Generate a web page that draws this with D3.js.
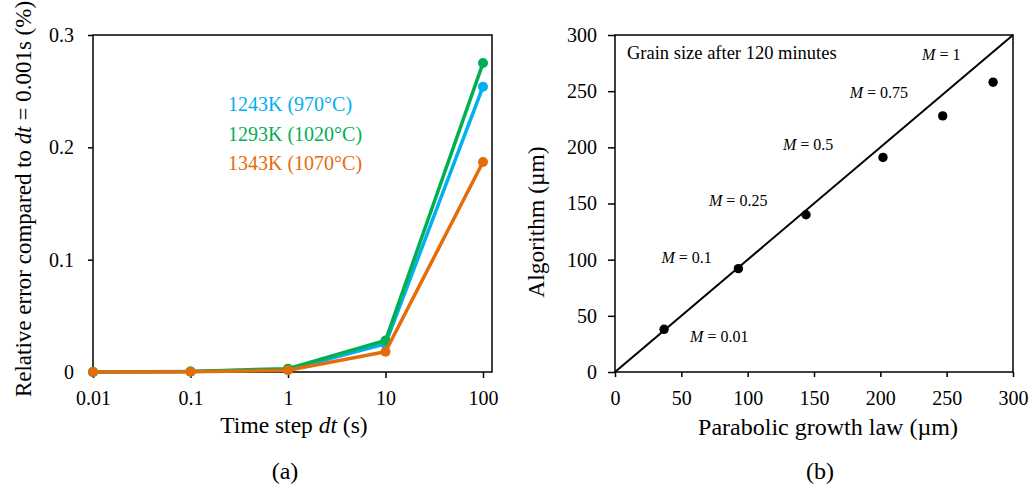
<!DOCTYPE html>
<html>
<head>
<meta charset="utf-8">
<script src="https://cdn.jsdelivr.net/npm/d3@7"></script>
<style>
  html, body { margin: 0; padding: 0; background: #fff; }
  svg { display: block; }
  svg text { font-family: "Times New Roman", Times, Tinos, serif; fill: #000; }
</style>
</head>
<body>
<svg id="chart" width="1032" height="489"></svg>
<script>
// ---------------- Data: panel (a) ----------------
const timeSteps = [0.01, 0.1, 1, 10, 100];
const timeStepLabels = ["0.01", "0.1", "1", "10", "100"];
const seriesNames = ["1243K (970°C)", "1293K (1020°C)", "1343K (1070°C)"];
const seriesColors = ["#00B0F0", "#00B050", "#E46C0A"];
const err1243 = [0, 0.0005, 0.002, 0.025, 0.254];
const err1293 = [0, 0.0005, 0.003, 0.028, 0.275];
const err1343 = [0, 0.0003, 0.0015, 0.018, 0.187];
const errTicks = [0, 0.1, 0.2, 0.3];
const errTickLabels = ["0", "0.1", "0.2", "0.3"];

// ---------------- Data: panel (b) ----------------
const mValues = ["0.01", "0.1", "0.25", "0.5", "0.75", "1"];
const parabolic = [37, 93, 144, 202, 247, 285];
const algorithm = [38, 92, 140, 191, 228, 258];
const sizeTicks = [0, 50, 100, 150, 200, 250, 300];
const identityLine = [[0, 0], [300, 300]];

// ---------------- Layout ----------------
const FONT = '"Times New Roman", Times, Tinos, serif';
const svg = d3.select("#chart");
const FONT_TICK = 20;

function styleAxis(g) {
  g.select(".domain").remove();
  g.selectAll(".tick line").attr("stroke", "#000").attr("stroke-width", 1.5);
  g.selectAll(".tick text").attr("font-size", FONT_TICK)
    .style("font-family", FONT).attr("fill", "#000");
}

// Panel (a)
const A = { left: 93, right: 492, top: 35, bottom: 372 };
const xA = d3.scaleLog().domain([0.01, 100]).range([93, 483]);
const yA = d3.scaleLinear().domain([0, 0.3]).range([A.bottom, A.top]);

const gA = svg.append("g");
gA.append("rect")
  .attr("x", A.left).attr("y", A.top)
  .attr("width", A.right - A.left).attr("height", A.bottom - A.top)
  .attr("fill", "none").attr("stroke", "#000").attr("stroke-width", 1.5);

const yAxisA = d3.axisLeft(yA).tickValues(errTicks)
  .tickFormat((d, i) => errTickLabels[i]).tickSize(5).tickPadding(14);
gA.append("g").attr("transform", `translate(${A.left},0)`).call(yAxisA).call(styleAxis);

const xAxisA = d3.axisBottom(xA).tickValues(timeSteps)
  .tickFormat((d, i) => timeStepLabels[i]).tickSize(6).tickPadding(13);
gA.append("g").attr("transform", `translate(0,${A.bottom})`).call(xAxisA).call(styleAxis);

const seriesA = [err1243, err1293, err1343];
const lineA = d3.line().x((d, i) => xA(timeSteps[i])).y(d => yA(d));
seriesA.forEach((vals, si) => {
  gA.append("path").datum(vals)
    .attr("d", lineA).attr("fill", "none")
    .attr("stroke", seriesColors[si]).attr("stroke-width", 3.5)
    .attr("stroke-linejoin", "round");
  gA.selectAll(null).data(vals).enter().append("circle")
    .attr("cx", (d, i) => xA(timeSteps[i])).attr("cy", d => yA(d))
    .attr("r", 5).attr("fill", seriesColors[si]);
});

const legendY = [111, 141, 170];
seriesNames.forEach((name, i) => {
  gA.append("text").attr("x", 228).attr("y", legendY[i])
    .attr("font-size", 20).style("fill", seriesColors[i])
    .text(name);
});

const tA = gA.append("text")
  .attr("transform", "translate(31,199) rotate(-90)")
  .attr("text-anchor", "middle").attr("font-size", 23);
tA.append("tspan").text("Relative error compared to ");
tA.append("tspan").attr("font-style", "italic").text("dt");
tA.append("tspan").text(" = 0.001s (%)");

const xtA = gA.append("text").attr("x", 294).attr("y", 433)
  .attr("text-anchor", "middle").attr("font-size", 23.5);
xtA.append("tspan").text("Time step ");
xtA.append("tspan").attr("font-style", "italic").text("dt");
xtA.append("tspan").text(" (s)");

gA.append("text").attr("x", 285).attr("y", 479)
  .attr("text-anchor", "middle").attr("font-size", 24).text("(a)");

// Panel (b)
const B = { left: 615, right: 1013, top: 35, bottom: 372 };
const xB = d3.scaleLinear().domain([0, 300]).range([B.left, B.right]);
const yB = d3.scaleLinear().domain([0, 300]).range([B.bottom, B.top]);
const gB = svg.append("g");

gB.append("rect")
  .attr("x", B.left).attr("y", B.top)
  .attr("width", B.right - B.left).attr("height", B.bottom - B.top)
  .attr("fill", "none").attr("stroke", "#000").attr("stroke-width", 1.5);

const yAxisB = d3.axisLeft(yB).tickValues(sizeTicks).tickFormat(d3.format("d"))
  .tickSize(7).tickPadding(11);
gB.append("g").attr("transform", `translate(${B.left},0)`).call(yAxisB).call(styleAxis);

const xAxisB = d3.axisBottom(xB).tickValues(sizeTicks).tickFormat(d3.format("d"))
  .tickSize(5).tickPadding(14);
gB.append("g").attr("transform", `translate(0,${B.bottom})`).call(xAxisB).call(styleAxis);

gB.append("path").datum(identityLine)
  .attr("d", d3.line().x(d => xB(d[0])).y(d => yB(d[1])))
  .attr("stroke", "#000").attr("stroke-width", 2).attr("fill", "none");

gB.selectAll(null).data(parabolic).enter().append("circle")
  .attr("cx", d => xB(d)).attr("cy", (d, i) => yB(algorithm[i]))
  .attr("r", 4.7).attr("fill", "#000");

const labelOffsets = [[26, 13], [-77, -6], [-97, -9], [-100, -7], [-93, -18], [-71, -22]];
mValues.forEach((m, i) => {
  const t = gB.append("text")
    .attr("x", xB(parabolic[i]) + labelOffsets[i][0])
    .attr("y", yB(algorithm[i]) + labelOffsets[i][1])
    .attr("font-size", 16);
  t.append("tspan").attr("font-style", "italic").text("M");
  t.append("tspan").text(" = " + m);
});

gB.append("text").attr("x", 627).attr("y", 59)
  .attr("font-size", 18.5).text("Grain size after 120 minutes");

gB.append("text")
  .attr("transform", "translate(544,222) rotate(-90)")
  .attr("text-anchor", "middle").attr("font-size", 23.5).text("Algorithm (µm)");

gB.append("text").attr("x", 828).attr("y", 435)
  .attr("text-anchor", "middle").attr("font-size", 24).text("Parabolic growth law (µm)");

gB.append("text").attr("x", 820).attr("y", 479)
  .attr("text-anchor", "middle").attr("font-size", 24).text("(b)");
</script>
</body>
</html>
